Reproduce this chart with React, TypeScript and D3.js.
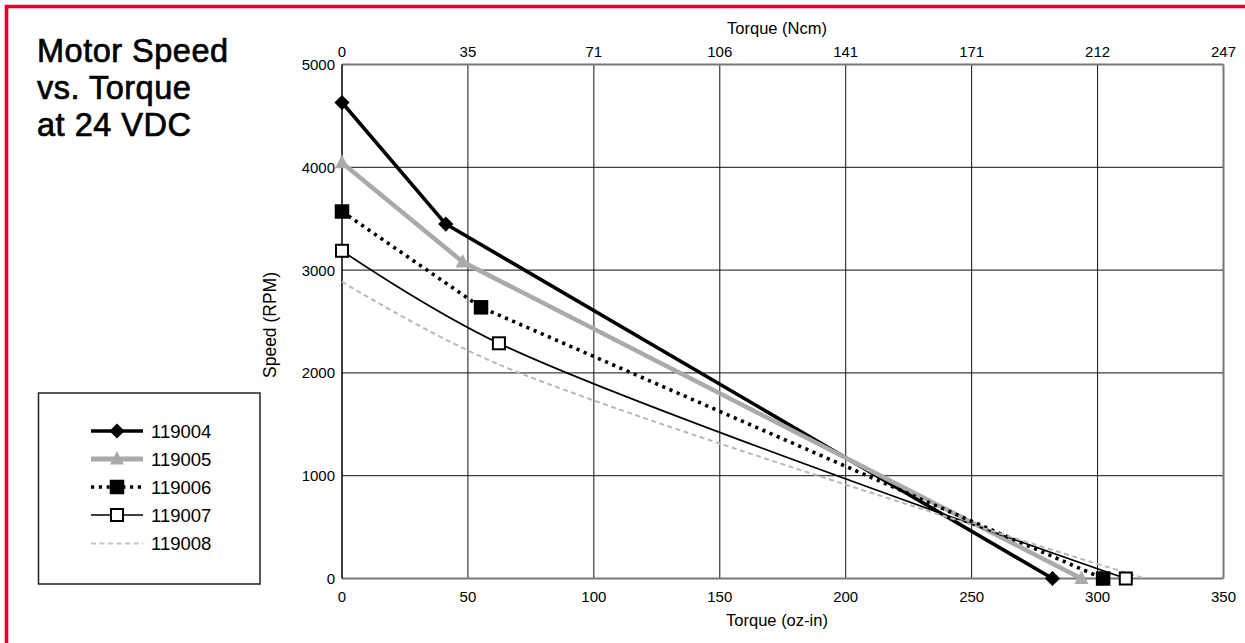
import React from 'react';
import * as d3 from 'd3';

const W = 1245;
const H = 643;

const titleLines = ['Motor Speed', 'vs. Torque', 'at 24 VDC'];
const bottomTicks = [0, 50, 100, 150, 200, 250, 300, 350];
const topTickLabels = ['0', '35', '71', '106', '141', '171', '212', '247'];
const speedTicks = [0, 1000, 2000, 3000, 4000, 5000];
const seriesNames = ['119004', '119005', '119006', '119007', '119008'];

const torque119004 = [0, 41.2, 282.1];
const speed119004 = [4630, 3448, 0];
const torque119005 = [0, 47.9, 293.6];
const speed119005 = [4045, 3080, 0];
const torque119006 = [0, 55.2, 302.2];
const speed119006 = [3570, 2638, 0];
const torque119007 = [0, 62.3, 311.2];
const speed119007 = [3188, 2288, 0];
const torque119008 = [0, 62, 318.8];
const speed119008 = [2887, 2085, 0];

type Pt = { t: number; s: number };
const zip = (t: number[], s: number[]): Pt[] => t.map((v, i) => ({ t: v, s: s[i] }));

type Style = {
  color: string;
  width: number;
  dash?: string;
  marker: 'diamond' | 'triangle' | 'square' | 'open' | 'none';
  smooth: boolean;
};

const styles: Style[] = [
  { color: '#000', width: 3.6, marker: 'diamond', smooth: false },
  { color: '#aaaaaa', width: 4.5, marker: 'triangle', smooth: false },
  { color: '#000', width: 3.6, dash: '3.2,4.6', marker: 'square', smooth: false },
  { color: '#000', width: 1.7, marker: 'open', smooth: true },
  { color: '#b8b8b8', width: 2, dash: '5,3.5', marker: 'none', smooth: true },
];

const seriesData: Pt[][] = [
  zip(torque119004, speed119004),
  zip(torque119005, speed119005),
  zip(torque119006, speed119006),
  zip(torque119007, speed119007),
  zip(torque119008, speed119008),
];

const x = d3.scaleLinear().domain([0, 350]).range([342, 1223.5]);
const y = d3.scaleLinear().domain([0, 5000]).range([578.5, 64.5]);

function Marker({ kind, cx, cy, color, scale = 1 }: { kind: Style['marker']; cx: number; cy: number; color: string; scale?: number }) {
  const k = scale;
  if (kind === 'diamond') {
    const r = 7.6 * k;
    return <polygon points={`${cx},${cy - r} ${cx + r},${cy} ${cx},${cy + r} ${cx - r},${cy}`} fill={color} />;
  }
  if (kind === 'triangle') {
    return (
      <polygon
        points={`${cx},${cy - 8 * k} ${cx + 7 * k},${cy + 5.5 * k} ${cx - 7 * k},${cy + 5.5 * k}`}
        fill={color}
      />
    );
  }
  if (kind === 'square') {
    const s = 14.5 * k;
    return <rect x={cx - s / 2} y={cy - s / 2} width={s} height={s} fill={color} />;
  }
  if (kind === 'open') {
    const s = 12 * k;
    return <rect x={cx - s / 2} y={cy - s / 2} width={s} height={s} fill="#fff" stroke="#000" strokeWidth={2} />;
  }
  return null;
}

export default function App() {
  const sans = 'Liberation Sans, Arial, Helvetica, sans-serif';
  const linearLine = d3
    .line<Pt>()
    .x((d) => x(d.t))
    .y((d) => y(d.s));
  const smoothLine = d3
    .line<Pt>()
    .x((d) => x(d.t))
    .y((d) => y(d.s))
    .curve(d3.curveCatmullRom.alpha(0.5));

  const legendRowY = [431, 459, 487, 515, 543.5];

  return (
    <svg
      width={W}
      height={H}
      viewBox={`0 0 ${W} ${H}`}
      style={{ position: 'absolute', left: 0, top: 0, background: '#fff' }}
      fontFamily={sans}
    >
      <rect x={0} y={0} width={W} height={H} fill="#fff" />
      {/* red frame */}
      <path d={`M6.5,${H + 5} V6.5 H${W + 5}`} fill="none" stroke="#e4002b" strokeWidth={3.6} />

      {/* title */}
      {titleLines.map((t, i) => (
        <text
          key={t}
          x={37}
          y={62 + i * 37}
          fontSize={32.5}
          fill="#000"
          stroke="#000"
          strokeWidth={0.7}
          letterSpacing={0.5}
        >
          {t}
        </text>
      ))}

      {/* grid */}
      {bottomTicks.slice(1, -1).map((t) => (
        <line key={'v' + t} x1={x(t)} x2={x(t)} y1={y(5000)} y2={y(0)} stroke="#111" strokeWidth={1} />
      ))}
      {speedTicks.slice(1, -1).map((s) => (
        <line key={'h' + s} x1={x(0)} x2={x(350)} y1={y(s)} y2={y(s)} stroke="#111" strokeWidth={1} />
      ))}
      {/* frame */}
      <line x1={x(0)} x2={x(350)} y1={y(5000)} y2={y(5000)} stroke="#777" strokeWidth={2} />
      <line x1={x(350)} x2={x(350)} y1={y(5000)} y2={y(0)} stroke="#777" strokeWidth={2} />
      <line x1={x(0)} x2={x(350)} y1={y(0)} y2={y(0)} stroke="#777" strokeWidth={2} />
      <line x1={x(0)} x2={x(0)} y1={y(5000)} y2={y(0)} stroke="#000" strokeWidth={1.5} />

      {/* axis labels */}
      {speedTicks.map((s) => (
        <text key={'yl' + s} x={335} y={y(s)} dy="0.36em" textAnchor="end" fontSize={15}>
          {s}
        </text>
      ))}
      {bottomTicks.map((t) => (
        <text key={'bl' + t} x={x(t)} y={597} dy="0.36em" textAnchor="middle" fontSize={15}>
          {t}
        </text>
      ))}
      {bottomTicks.map((t, i) => (
        <text key={'tl' + t} x={x(t)} y={52} dy="0.36em" textAnchor="middle" fontSize={15}>
          {topTickLabels[i]}
        </text>
      ))}
      <text x={777} y={620} dy="0.36em" textAnchor="middle" fontSize={16.5}>
        Torque (oz-in)
      </text>
      <text x={777} y={28} dy="0.36em" textAnchor="middle" fontSize={16.5}>
        Torque (Ncm)
      </text>
      <text
        transform={`translate(270,325) rotate(-90)`}
        dy="0.36em"
        textAnchor="middle"
        fontSize={17.5}
      >
        Speed (RPM)
      </text>

      {/* series lines */}
      {seriesData.map((data, i) => {
        const st = styles[i];
        const gen = st.smooth ? smoothLine : linearLine;
        return (
          <path
            key={'s' + i}
            d={gen(data) || ''}
            fill="none"
            stroke={st.color}
            strokeWidth={st.width}
            strokeDasharray={st.dash}
            strokeLinejoin="round"
          />
        );
      })}
      {seriesData.map((data, i) =>
        data.map((d, j) => (
          <Marker key={`m${i}-${j}`} kind={styles[i].marker} cx={x(d.t)} cy={y(d.s)} color={styles[i].color} />
        ))
      )}

      {/* legend */}
      <rect x={38.5} y={393} width={221.5} height={191} fill="#fff" stroke="#222" strokeWidth={1.5} />
      {seriesNames.map((name, i) => {
        const st = styles[i];
        const cy = legendRowY[i];
        return (
          <g key={'lg' + name}>
            <line
              x1={91}
              x2={143}
              y1={cy}
              y2={cy}
              stroke={i === 4 ? '#c4c4c4' : st.color}
              strokeWidth={i === 1 ? 5 : st.width}
              strokeDasharray={st.dash}
            />
            <Marker kind={st.marker} cx={117} cy={cy} color={st.color} scale={1} />
            <text x={151} y={cy} dy="0.36em" fontSize={18.5}>
              {name}
            </text>
          </g>
        );
      })}
    </svg>
  );
}
